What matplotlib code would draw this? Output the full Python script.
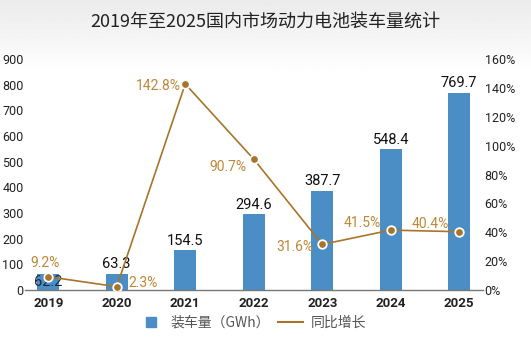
import numpy as np
import matplotlib.pyplot as plt
from matplotlib.lines import Line2D

plt.rcParams['font.family'] = ['Noto Sans CJK SC', 'DejaVu Sans']

years = ['2019', '2020', '2021', '2022', '2023', '2024', '2025']
volume = [62.2, 63.3, 154.5, 294.6, 387.7, 548.4, 769.7]
growth = [9.2, 2.3, 142.8, 90.7, 31.6, 41.5, 40.4]
left_ticks = [0, 100, 200, 300, 400, 500, 600, 700, 800, 900]
right_ticks = [0, 20, 40, 60, 80, 100, 120, 140, 160]

bar_c = '#4b8ec6'
line_c = '#a8742a'
lab_c = '#bf8838'
num_font = ['Roboto', 'DejaVu Sans']

fig = plt.figure(figsize=(5.31, 3.38), dpi=100)
fig.patch.set_facecolor('white')

# faint grey wash at the top, as in the source image
grad = np.linspace(0.92, 1.0, 80).reshape(-1, 1)
bg = fig.add_axes([0, 0.78, 1, 0.22], zorder=-10)
bg.imshow(grad, cmap='gray', vmin=0, vmax=1, aspect='auto', extent=[0, 1, 0, 1])
bg.axis('off')

ax = fig.add_axes([0.047, 0.142, 0.863, 0.683])
ax.patch.set_alpha(0)
ax2 = ax.twinx()

x = np.arange(len(years))
ax.bar(x, volume, width=0.32, color=bar_c, zorder=2)
ax.set_xlim(-0.34, 6.35)
ax.set_ylim(0, 900)
ax.set_yticks(left_ticks)
ax.set_xticks(x)
ax.set_xticklabels(years, fontsize=9.5, fontweight='bold', family=num_font, color='#222222')
for lbl in ax.get_yticklabels():
    lbl.set_fontsize(9)
    lbl.set_family(num_font)
ax.tick_params(axis='y', length=0, pad=1, labelcolor='#222222')
ax.tick_params(axis='x', length=0, pad=5, labelcolor='#222222')
for s in ['top', 'left', 'right']:
    ax.spines[s].set_visible(False)
ax.spines['bottom'].set_color('#777777')
ax.spines['bottom'].set_linewidth(1)

for i, v in enumerate(volume):
    if i == 0:
        ax.text(i, v - 2, f'{v}', ha='center', va='top', fontsize=10.5,
                family=num_font, color='#1a2a3a', zorder=5)
    else:
        ax.text(i, v + 10, f'{v}', ha='center', va='bottom', fontsize=10.5,
                family=num_font, color='#111111', zorder=5)

ax2.plot(x, growth, color=line_c, lw=1.2, zorder=3)
ax2.scatter(x, growth, s=38, color=line_c, edgecolor='white', linewidth=1.3, zorder=4)
ax2.set_ylim(0, 160)
ax2.set_yticks(right_ticks)
ax2.set_yticklabels([f'{t}%' for t in right_ticks], fontsize=9, family=num_font, color='#222222')
ax2.tick_params(axis='y', length=0, pad=1)
for s in ['top', 'left', 'right', 'bottom']:
    ax2.spines[s].set_visible(False)

offsets = [(-0.05, 9.5, 'center'), (0.17, 2.5, 'left'),
           (-0.06, -1.5, 'right'), (-0.1, -5.5, 'right'),
           (-0.13, -1.5, 'right'), (-0.15, 5.0, 'right'),
           (-0.15, 5.5, 'right')]
for i, g in enumerate(growth):
    dx, dy, ha = offsets[i]
    ax2.text(i + dx, g + dy, f'{g}%', ha=ha, va='center', fontsize=10,
             family=num_font, color=lab_c, zorder=5)

fig.text(0.5, 0.935, '2019年至2025国内市场动力电池装车量统计', ha='center', va='center',
         fontsize=13, color='#222222')

handles = [Line2D([], [], marker='s', color=bar_c, ls='none', markersize=7),
           Line2D([], [], color=line_c, lw=1.5)]
fig.legend(handles, ['装车量（GWh）', '同比增长'], loc='center', bbox_to_anchor=(0.475, 0.045),
           ncol=2, frameon=False, fontsize=10, handlelength=1.8, handletextpad=0.5,
           columnspacing=0.6, labelcolor='#555555')

fig.savefig('out.png', dpi=100)
